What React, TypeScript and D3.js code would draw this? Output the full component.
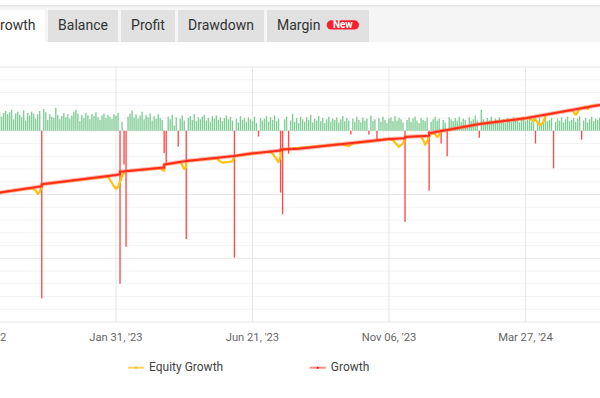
import React from 'react';
import * as d3 from 'd3';

const W = 600;
const H = 398;

// Daily result bars (one per trading day, category index 0..299)
const barValues: number[] = [
  30, 22, 28, 31, 26, 29, 33, 18, 27, 30,
  25, 21, 32, 16, 28, 24, 30, 27, 19, 26,
  31, -263, 34, 29, 17, 26, 22, 20, 36, 25,
  18, 23, 28, 21, 26, 19, 24, 30, 33, 27,
  15, 25, 20, 28, 24, 18, 26, 23, 29, 21,
  17, 24, 27, 20, 25, 22, 19, 26, 23, 28,
  -240, 14, -53, -182, 22, 27, 32, 21, 26, 19,
  24, 30, 18, 25, 21, 27, 16, 23, 19, 26,
  20, 17, -35, -50, 22, 18, 25, 8, 21, -25,
  19, 24, 16, -170, 20, 23, 17, 26, 15, 21,
  18, 22, 25, 16, 20, 14, 23, 19, 24, 17,
  21, 15, 20, 24, 18, 22, 16, -199, 19, 13,
  23, 17, 20, 14, 21, 18, 15, 22, 12, -9,
  20, 16, 19, 23, 14, 21, 17, 24, 15, 19,
  -97, -131, 18, 22, -36, 16, 27, 14, 20, 12,
  22, 18, 14, 21, 17, 25, 13, 19, 16, 23,
  15, 20, 12, 18, 22, 14, 19, 17, 21, 13,
  18, 23, 15, 20, 16, -6, 19, 14, 22, 17,
  13, 21, 16, 19, -6, 24, 15, 18, -15, 20,
  14, 22, 17, 12, 19, 21, 15, 23, 16, 20,
  18, 13, -143, 17, 21, 14, 19, 22, 16, 12,
  20, 17, 15, 21, -94, 14, 18, 22, 16, 19,
  -20, 17, 13, -40, 21, 18, 15, 20, 16, 22,
  14, 19, 17, 9, 21, 15, 18, 24, 16, -11,
  33, 18, 14, 20, 16, 22, 13, 19, 17, 21,
  15, 18, 12, 20, 17, 14, 21, 16, 19, 13,
  18, 22, 15, 17, 20, 14, 19, -20, 16, 21,
  13, 18, 22, 15, 17, 20, -59, 14, 19, 16,
  21, 13, 18, 22, 15, 17, 20, 14, 19, 23,
  -14, 16, 20, 13, 18, 22, 15, 19, 17, 21,
];

// Growth (%) : [category index, value]
const growthPoints: [number, number][] = [
  [0, 103], [21, 113], [21, 116], [58, 130.5], [60, 131.7], [60, 135.8],
  [82, 142.4], [82, 147], [93, 152.5], [117, 160.4], [126, 164.6],
  [140, 169], [140, 170.6], [149, 171.8], [194, 187], [202, 188.2],
  [202, 190.2], [214, 192], [214, 196], [220, 199.6], [223, 201.2],
  [239, 210.6], [262, 219.5], [276, 227.4], [299, 240.4], [301, 241.5],
];

// Equity growth (%) : [category index, value]
const equityPoints: [number, number][] = [
  [0, 103], [16, 110], [18, 106], [19, 101], [20, 104], [21, 113], [21, 116],
  [54, 128], [55, 123], [57, 113], [58, 109], [59, 112], [60, 120], [61, 128],
  [62, 134], [63, 136.5], [80, 141.5], [81, 139], [82, 137], [82, 146], [83, 147],
  [90, 151], [91, 146], [92, 140], [93, 143], [93, 152.5], [108, 157.2],
  [109, 154], [111, 150], [114, 151], [116, 152], [117, 160.4], [135, 167.5],
  [136, 164], [138, 155], [139, 151], [140, 160], [140, 170.6], [170, 179],
  [172, 177.5], [174, 176], [176, 180], [194, 187], [196, 185], [198, 178],
  [199, 175], [201, 180], [202, 188.2], [202, 190.2], [210, 191.5], [211, 186],
  [212, 178], [213, 183], [214, 192], [214, 196], [217, 195], [218, 190],
  [219, 193], [220, 199.6], [223, 201.2], [239, 210.6], [262, 219.5],
  [264, 220.6], [265, 217], [266, 215], [267, 218], [268, 213], [269, 209],
  [270, 210], [271, 214], [272, 224.7], [276, 227.4], [285, 232.5],
  [286, 229], [287, 225], [288, 229], [289, 234.7], [292, 237.5], [293, 234],
  [294, 238.6], [299, 240.4], [301, 241.5],
];

const tickIndex: number[] = [-10, 58, 126, 194, 262];
const tickLabels: string[] = ["Sep 12, '22", "Jan 31, '23", "Jun 21, '23", "Nov 06, '23", "Mar 27, '24"];

const tabLabels: string[] = ['Growth', 'Balance', 'Profit', 'Drawdown', 'Margin'];
const legendLabels: string[] = ['Equity Growth', 'Growth'];

const PLOT_TOP = 67;
const PLOT_BOTTOM = 322;

export default function App() {
  const x = d3.scaleLinear().domain([0, 299]).range([-0.4, 599.7]);
  const yGrowth = d3.scaleLinear().domain([-100, 300]).range([PLOT_BOTTOM, PLOT_TOP]);
  const yBar = d3.scaleLinear().domain([-300, 100]).range([PLOT_BOTTOM, PLOT_TOP]);

  const line = d3
    .line<[number, number]>()
    .x((d) => x(d[0]))
    .y((d) => yGrowth(d[1]));

  const majorTicks = d3.range(-100, 301, 100);
  const minorTicks = d3.range(-100, 301, 20).filter((v) => v % 100 !== 0);

  const tabRects = [
    { x0: -22, x1: 45 },
    { x0: 48, x1: 118 },
    { x0: 121, x1: 175 },
    { x0: 178, x1: 264 },
    { x0: 267, x1: 369 },
  ];

  const bw = 1.35;
  const font = 'Roboto, Arial, sans-serif';

  return (
    <svg
      width={W}
      height={H}
      style={{ position: 'absolute', left: 0, top: 0, background: '#fff' }}
      fontFamily={font}
    >
      <rect x={0} y={0} width={W} height={H} fill="#fff" />
      {/* tab strip */}
      <rect x={0} y={6} width={W} height={36} fill="#f5f5f5" />
      <rect x={0} y={5} width={W} height={1.3} fill="#e4e4e4" />
      {tabRects.map((t, i) => (
        <g key={tabLabels[i]}>
          <rect x={t.x0} y={10} width={t.x1 - t.x0} height={32} fill={i === 0 ? '#ffffff' : '#e1e1e1'} />
          <text
            x={i === 4 ? t.x0 + 10 : (t.x0 + t.x1) / 2 + (i === 0 ? 1.5 : 0)}
            y={30}
            fontSize={14}
            fill="#333"
            textAnchor={i === 4 ? 'start' : 'middle'}
          >
            {tabLabels[i]}
          </text>
        </g>
      ))}
      <rect x={326.7} y={20.3} width={32.3} height={9.2} rx={4.6} fill="#f5222d" />
      <text x={342.8} y={28.4} fontSize={10} fontWeight="bold" fill="#fff" textAnchor="middle">
        New
      </text>

      {/* grid */}
      {minorTicks.map((v) => (
        <line key={'mn' + v} x1={0} x2={W} y1={yGrowth(v)} y2={yGrowth(v)} stroke="#f3f3f3" strokeWidth={1} />
      ))}
      {majorTicks.map((v) => (
        <line key={'mj' + v} x1={0} x2={W} y1={yGrowth(v)} y2={yGrowth(v)} stroke="#e6e6e6" strokeWidth={1} />
      ))}
      {tickIndex.map((t) => (
        <line key={'vg' + t} x1={x(t)} x2={x(t)} y1={PLOT_TOP} y2={PLOT_BOTTOM} stroke="#e6e6e6" strokeWidth={1} />
      ))}

      {/* bars */}
      {barValues.map((v, i) => {
        const y0 = yBar(0);
        const y1 = yBar(v);
        return (
          <rect
            key={'b' + i}
            x={x(i) - bw / 2}
            y={Math.min(y0, y1)}
            width={bw}
            height={Math.abs(y1 - y0)}
            fill={v >= 0 ? '#7fcc95' : '#ff4a4a'}
          />
        );
      })}

      {/* lines */}
      <path d={line(equityPoints) || ''} fill="none" stroke="#ffc20e" strokeWidth={2.2} strokeLinejoin="round" />
      <path d={line(growthPoints) || ''} fill="none" stroke="rgba(255,90,70,0.45)" strokeWidth={4} strokeLinejoin="round" />
      <path d={line(growthPoints) || ''} fill="none" stroke="#ff2e1c" strokeWidth={2} strokeLinejoin="round" />

      {/* x axis labels */}
      {tickIndex.map((t, i) => (
        <text key={'tl' + t} x={x(t)} y={340.5} fontSize={11.2} fill="#666" textAnchor="middle">
          {tickLabels[i]}
        </text>
      ))}

      {/* legend */}
      <g>
        <line x1={128} x2={144} y1={367.7} y2={367.7} stroke="#ffd65c" strokeWidth={2} />
        <circle cx={136} cy={367.7} r={1} fill="#f2b800" />
        <text x={149} y={371.2} fontSize={12} fill="#444">
          {legendLabels[0]}
        </text>
        <line x1={309.6} x2={325.8} y1={367.7} y2={367.7} stroke="#ff8a8a" strokeWidth={2} />
        <circle cx={317.7} cy={367.7} r={1} fill="#e8000a" />
        <text x={330.8} y={371.2} fontSize={12} fill="#444">
          {legendLabels[1]}
        </text>
      </g>
    </svg>
  );
}
